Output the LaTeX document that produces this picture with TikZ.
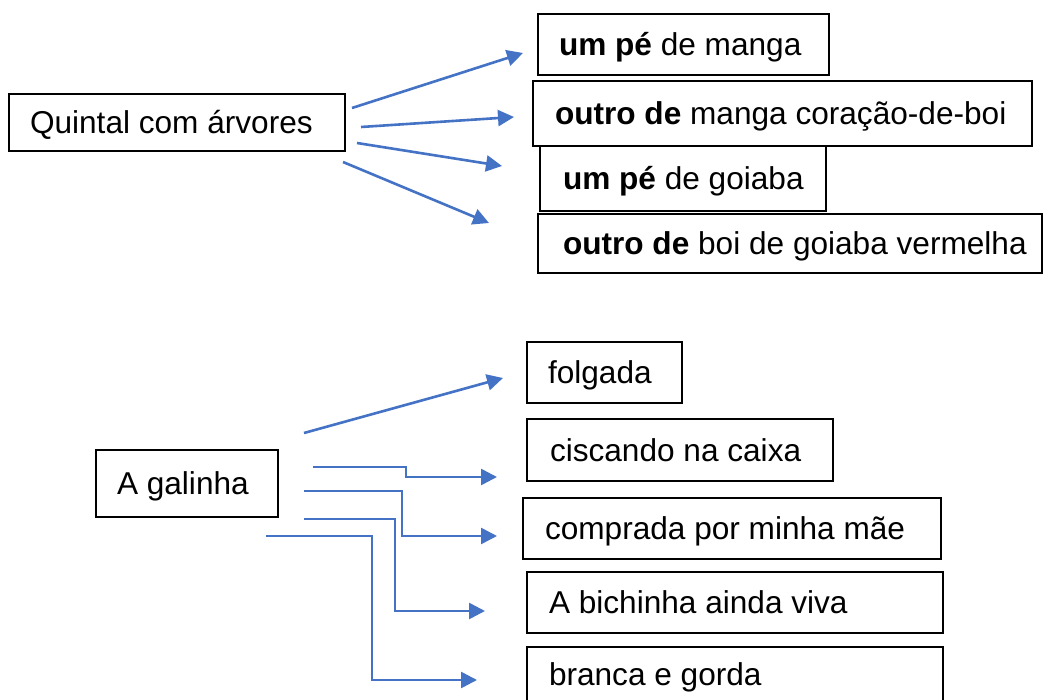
\documentclass[tikz,border=0pt]{standalone}
\usepackage{fontspec}
\setmainfont{Liberation Sans}
\usetikzlibrary{arrows.meta}
\definecolor{arrblue}{HTML}{4472C4}
\newcommand\lbox[2]{\makebox[#1][l]{#2}}
\begin{document}
\begin{tikzpicture}[x=1pt,y=-1pt,
  box/.style={draw=black, line width=1.8pt, inner ysep=0pt,
    font=\fontsize{31.6}{36}\selectfont, text height=22.8pt, text depth=0pt},
  conn/.style={draw=arrblue, line width=2.6pt, -{Triangle[length=16pt,width=16pt]}}]
\clip (0,0) rectangle (1044,700);
\fill[white] (0,0) rectangle (1044,700);
% top group
\node[box, minimum height=57pt, inner xsep=21pt] (q) at (177,122.5) {\lbox{294pt}{Quintal com árvores}};
\node[box, minimum height=61pt, inner xsep=21pt] (t1) at (683.5,44.5) {\lbox{249pt}{\textbf{um pé} de manga}};
\node[box, minimum height=65pt, inner xsep=22pt] (t2) at (782.5,113.5) {\lbox{455pt}{\textbf{outro de} manga coração-de-boi}};
\node[box, minimum height=65pt, inner xsep=23pt] (t3) at (683,178.5) {\lbox{240pt}{\textbf{um pé} de goiaba}};
\node[box, minimum height=59pt, inner xsep=25pt] (t4) at (790,243.5) {\lbox{454pt}{\textbf{outro de} boi de goiaba vermelha}};
% bottom group
\node[box, minimum height=67pt, inner xsep=21pt] (g) at (187,483.5) {\lbox{140pt}{A galinha}};
\node[box, minimum height=61pt, inner xsep=21pt] (b1) at (604.5,372.5) {\lbox{113pt}{folgada}};
\node[box, minimum height=62pt, inner xsep=23pt] (b2) at (680,450) {\lbox{260pt}{ciscando na caixa}};
\node[box, minimum height=61pt, inner xsep=22pt] (b3) at (732,528.5) {\lbox{374pt}{comprada por minha mãe}};
\node[box, minimum height=61pt, inner xsep=22pt] (b4) at (735,602.5) {\lbox{372pt}{A bichinha ainda viva}};
\node[box, minimum height=55pt, inner xsep=22pt] (b5) at (735,674.5) {\lbox{372pt}{branca e gorda}};
% connector end points
\coordinate (s1) at (352,108); \coordinate (e1) at (523,53);
\coordinate (s2) at (361,127); \coordinate (e2) at (514,117);
\coordinate (s3) at (357,143); \coordinate (e3) at (502,166);
\coordinate (s4) at (343,162); \coordinate (e4) at (489,223);
\coordinate (s5) at (304,433); \coordinate (e5) at (503,378);
\coordinate (s6) at (313,467); \coordinate (e6) at (497,477);
\coordinate (s7) at (304,491); \coordinate (e7) at (497,536);
\coordinate (s8) at (304,519); \coordinate (e8) at (485,611);
\coordinate (s9) at (266,536); \coordinate (e9) at (477,680);
\draw[conn] (s1) -- (e1);
\draw[conn] (s2) -- (e2);
\draw[conn] (s3) -- (e3);
\draw[conn] (s4) -- (e4);
\draw[conn] (s5) -- (e5);
\draw[conn] (s6) -- ++(93,0) |- (e6);
\draw[conn] (s7) -- ++(98,0) |- (e7);
\draw[conn] (s8) -- ++(91,0) |- (e8);
\draw[conn] (s9) -- ++(106,0) |- (e9);
\end{tikzpicture}
\end{document}
